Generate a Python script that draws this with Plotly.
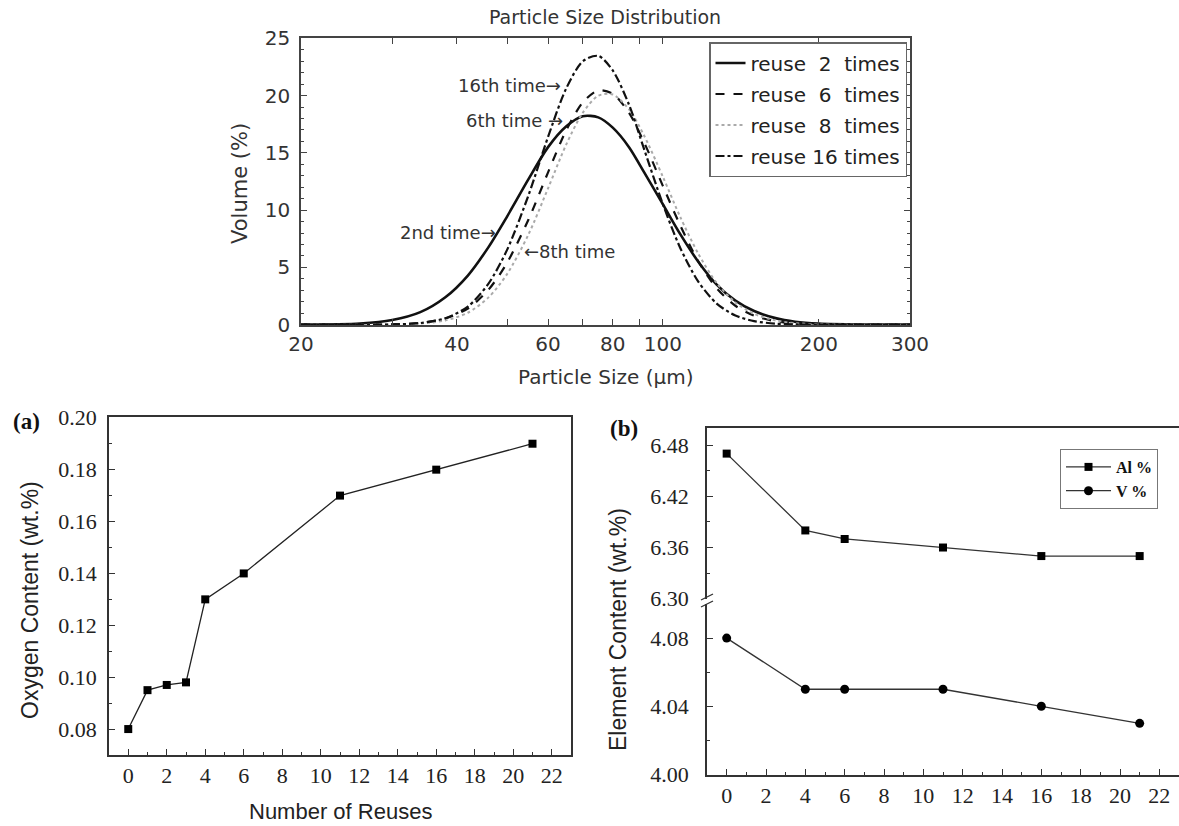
import math
import plotly.graph_objects as go

W, H = 1179, 826


def px(x):
    return x / W


def py(y):
    return 1 - y / H


# ---------------- data ----------------
size_um = [20, 26, 30, 34, 38, 42, 46, 50, 55, 60, 65, 70, 75, 80, 86, 92, 100,
           108, 117, 127, 138, 150, 165, 180, 200, 240, 300]
vol_reuse2 = [0, 0.10, 0.40, 1.09, 2.39, 4.29, 6.75, 9.44, 12.7, 15.5, 17.3, 18.2,
              18.1, 17.2, 15.5, 13.3, 10.5, 7.9, 5.5, 3.5, 2.1, 1.19, 0.57, 0.26,
              0.09, 0.01, 0]
vol_reuse6 = [0, 0, 0.03, 0.15, 0.54, 1.41, 3.03, 5.40, 9.18, 13.3, 16.95, 19.4,
              20.46, 20.16, 18.5, 15.9, 12.1, 8.66, 5.54, 3.18, 1.65, 0.78, 0.30,
              0.11, 0.03, 0, 0]
vol_reuse8 = [0, 0, 0.02, 0.09, 0.37, 1.04, 2.36, 4.41, 7.88, 11.9, 15.7, 18.5,
              19.99, 20.1, 18.8, 16.5, 12.9, 9.4, 6.2, 3.64, 1.94, 0.94, 0.36,
              0.13, 0.04, 0, 0]
vol_reuse16 = [0, 0, 0.02, 0.14, 0.56, 1.58, 3.56, 6.53, 11.3, 16.4, 20.6, 22.99,
               23.47, 22.2, 19.2, 15.3, 10.5, 6.7, 3.76, 1.84, 0.80, 0.31, 0.09,
               0.02, 0, 0, 0]
psd_names = ["reuse\u00a0\u00a02\u00a0\u00a0times", "reuse\u00a0\u00a06\u00a0\u00a0times",
             "reuse\u00a0\u00a08\u00a0\u00a0times", "reuse\u00a016\u00a0times"]

x_ticks_psd = [20, 30, 40, 50, 60, 70, 80, 90, 100, 200, 300]
x_ticktext_psd = ["20", "", "40", "", "60", "", "80", "", "100", "200", "300"]

reuses_o = [0, 1, 2, 3, 4, 6, 11, 16, 21]
oxygen = [0.080, 0.095, 0.097, 0.098, 0.130, 0.140, 0.170, 0.180, 0.190]

reuses_el = [0, 4, 6, 11, 16, 21]
al_pct = [6.47, 6.38, 6.37, 6.36, 6.35, 6.35]
v_pct = [4.08, 4.05, 4.05, 4.05, 4.04, 4.03]

# ---------------- figure ----------------
fig = go.Figure()

SANS = "DejaVu Sans"
SERIF = "Liberation Serif, Times New Roman, serif"
ARIAL = "Liberation Sans, Arial, sans-serif"

styles = [
    dict(color="#111", width=2.6, dash="solid"),
    dict(color="#111", width=2.2, dash="dash"),
    dict(color="#aaaaaa", width=2.0, dash="dot"),
    dict(color="#111", width=2.2, dash="dashdot"),
]
for i, (name, vals) in enumerate(zip(psd_names, [vol_reuse2, vol_reuse6, vol_reuse8, vol_reuse16])):
    fig.add_trace(go.Scatter(
        x=size_um, y=vals, mode="lines", name=name, line=dict(shape="spline", smoothing=0.8, **styles[i]),
        xaxis="x", yaxis="y", legend="legend", legendgroup=f"g{i}"))

# panel (a)
fig.add_trace(go.Scatter(
    x=reuses_o, y=oxygen, mode="lines+markers", showlegend=False,
    line=dict(color="#222", width=1.3), marker=dict(symbol="square", size=8, color="#000"),
    xaxis="x2", yaxis="y2"))

# panel (b)
fig.add_trace(go.Scatter(
    x=reuses_el, y=al_pct, mode="lines+markers", name="<b>Al %</b>",
    line=dict(color="#333", width=1.3), marker=dict(symbol="square", size=8, color="#000"),
    xaxis="x4", yaxis="y4", legend="legend2"))
fig.add_trace(go.Scatter(
    x=reuses_el, y=v_pct, mode="lines+markers", name="<b>V %</b>",
    line=dict(color="#333", width=1.3), marker=dict(symbol="circle", size=9, color="#000"),
    xaxis="x3", yaxis="y3", legend="legend2"))

axis_col = "#444"
serif_tick = dict(family=SERIF, size=22, color="#222")

fig.update_layout(
    width=W, height=H, margin=dict(l=0, r=0, t=0, b=0, autoexpand=False),
    paper_bgcolor="white", plot_bgcolor="white",
    font=dict(family=SERIF),
    # top chart
    xaxis=dict(domain=[px(301), px(910)], anchor="y", type="log", automargin=False,
               range=[math.log10(20), math.log10(300)],
               tickvals=x_ticks_psd, ticktext=x_ticktext_psd,
               ticks="inside", ticklen=6, tickcolor=axis_col, mirror="ticks",
               showline=True, linecolor=axis_col, linewidth=1.5, showgrid=False, zeroline=False,
               tickfont=dict(family=SANS, size=20, color="#333")),
    yaxis=dict(domain=[py(325), py(38)], anchor="x", range=[-0.03, 25.03], automargin=False,
               tickvals=[0, 5, 10, 15, 20, 25],
               ticks="inside", ticklen=6, tickcolor=axis_col, mirror="ticks",
               minor=dict(ticks="inside", ticklen=3, dtick=1, tick0=0, tickcolor=axis_col),
               showline=True, linecolor=axis_col, linewidth=1.5, showgrid=False, zeroline=False,
               ticklabelstandoff=5,
               tickfont=dict(family=SANS, size=20, color="#333")),
    # panel (a)
    xaxis2=dict(domain=[px(109), px(571)], anchor="y2", range=[-1, 23], automargin=False,
                tickvals=list(range(0, 23, 2)),
                ticks="inside", ticklen=6, tickcolor="#333", mirror=True,
                minor=dict(ticks="inside", ticklen=3, dtick=1, tick0=0, tickcolor="#333"),
                showline=True, linecolor="#333", linewidth=1.5, showgrid=False, zeroline=False,
                tickfont=serif_tick),
    yaxis2=dict(domain=[py(755), py(417)], anchor="x2", range=[0.07, 0.2003], automargin=False,
                tickvals=[0.08, 0.10, 0.12, 0.14, 0.16, 0.18, 0.20], tickformat=".2f",
                ticks="inside", ticklen=6, tickcolor="#333", mirror=True,
                minor=dict(ticks="inside", ticklen=3, dtick=0.01, tick0=0, tickcolor="#333"),
                showline=True, linecolor="#333", linewidth=1.5, showgrid=False, zeroline=False,
                ticklabelstandoff=6,
                tickfont=serif_tick),
    # panel (b) lower
    xaxis3=dict(domain=[px(707), px(1179)], anchor="y3", range=[-1, 23], automargin=False,
                tickvals=list(range(0, 23, 2)),
                ticks="inside", ticklen=6, tickcolor="#333",
                minor=dict(ticks="inside", ticklen=3, dtick=1, tick0=0, tickcolor="#333"),
                showline=True, linecolor="#333", linewidth=1.5, showgrid=False, zeroline=False,
                tickfont=serif_tick),
    yaxis3=dict(domain=[py(775), py(604)], anchor="x3", range=[3.9997, 4.1], automargin=False,
                tickvals=[4.00, 4.04, 4.08], tickformat=".2f",
                ticks="inside", ticklen=6, tickcolor="#333",
                minor=dict(ticks="inside", ticklen=3, tickvals=[4.02, 4.06], tickcolor="#333"),
                showline=True, linecolor="#333", linewidth=1.5, showgrid=False, zeroline=False,
                ticklabelstandoff=12,
                tickfont=serif_tick),
    # panel (b) upper
    xaxis4=dict(domain=[px(707), px(1179)], anchor="y4", range=[-1, 23], side="top", automargin=False,
                showticklabels=False, ticks="",
                showline=True, linecolor="#333", linewidth=1.5, showgrid=False, zeroline=False),
    yaxis4=dict(domain=[py(599), py(428)], anchor="x4", range=[6.2997, 6.50], automargin=False,
                tickvals=[6.30, 6.36, 6.42, 6.48], tickformat=".2f",
                ticks="inside", ticklen=6, tickcolor="#333",
                minor=dict(ticks="inside", ticklen=3, tickvals=[6.33, 6.39, 6.45], tickcolor="#333"),
                showline=True, linecolor="#333", linewidth=1.5, showgrid=False, zeroline=False,
                ticklabelstandoff=12,
                tickfont=serif_tick),
    legend=dict(x=px(907), y=py(42), xanchor="right", yanchor="top",
                bordercolor="#666", borderwidth=1.5, bgcolor="white",
                font=dict(family=SANS, size=20, color="#222"),
                tracegroupgap=2, itemwidth=30),
    legend2=dict(x=px(1158), y=py(449), xanchor="right", yanchor="top",
                 bordercolor="#777", borderwidth=1, bgcolor="white",
                 font=dict(family=SERIF, size=16, color="#111"),
                 itemwidth=45, tracegroupgap=0),
)

annotations = [
    dict(text="Particle Size Distribution", x=px(605), y=py(17), yanchor="middle", font=dict(family=SANS, size=19, color="#333")),
    dict(text="Volume (%)", x=px(240), y=py(183), yanchor="middle", textangle=-90, font=dict(family=SANS, size=21, color="#333")),
    dict(text="Particle Size (\u00b5m)", x=px(605), y=py(377), yanchor="middle", font=dict(family=SANS, size=20, color="#333")),
    dict(text="<b>(a)</b>", x=px(26), y=py(421), yanchor="middle", font=dict(family=SERIF, size=23, color="#111")),
    dict(text="<b>(b)</b>", x=px(624), y=py(428), yanchor="middle", font=dict(family=SERIF, size=23, color="#111")),
    dict(text="Oxygen Content (wt.%)", x=px(30), y=py(600), yanchor="middle", textangle=-90, font=dict(family=ARIAL, size=23, color="#222")),
    dict(text="Number of Reuses", x=px(340), y=0.0, yanchor="bottom", font=dict(family=ARIAL, size=22, color="#222")),
    dict(text="Element Content (wt.%)", x=px(618), y=py(630), yanchor="middle", textangle=-90, font=dict(family=ARIAL, size=23, color="#222")),
]
for a in annotations:
    fig.add_annotation(xref="paper", yref="paper", showarrow=False, xanchor="center", **a)

# curve labels on the size-distribution chart
curve_labels = [
    ("16th time\u2192", 1.807, 20.9, "right"),
    ("6th time \u2192", 1.811, 17.86, "right"),
    ("2nd time\u2192", 1.681, 8.01, "right"),
    ("\u21908th time", 1.728, 6.36, "left"),
]
for t, lx, ly, anc in curve_labels:
    fig.add_annotation(xref="x", yref="y", x=lx, y=ly, text=t, showarrow=False,
                       xanchor=anc, yanchor="middle", font=dict(family=SANS, size=18, color="#333"))

# axis break marks on panel (b)
for (x0, y0, x1, y1) in [(701, 600, 713, 594), (701, 607, 713, 601)]:
    fig.add_shape(type="line", xref="paper", yref="paper", x0=px(x0), y0=py(y0), x1=px(x1), y1=py(y1),
                  line=dict(color="#333", width=1.3))

fig.write_html(
    "out.html",
    config={"displayModeBar": False},
    post_script="document.body.style.margin='0';document.body.style.padding='0';"
                "document.body.style.overflow='hidden';",
)
